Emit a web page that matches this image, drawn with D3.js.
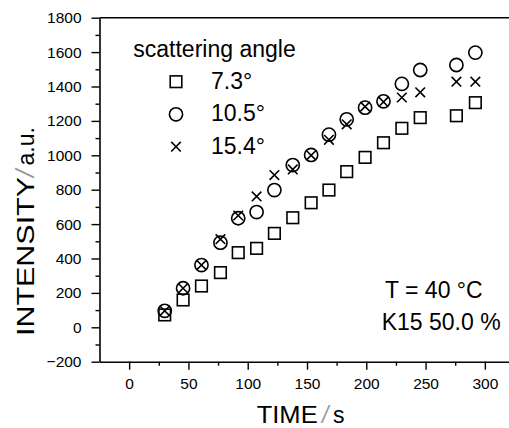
<!DOCTYPE html>
<html>
<head>
<meta charset="utf-8">
<script src="https://cdn.jsdelivr.net/npm/d3@7/dist/d3.min.js"></script>
<style>
  html, body { margin: 0; padding: 0; background: #fff; }
  svg { display: block; font-family: "Liberation Sans", Arial, Helvetica, sans-serif; }
</style>
</head>
<body>
<svg id="chart" width="509" height="428"></svg>
<script>
// ---- data ----
const time = [30, 45.5, 61, 77, 92, 107.5, 122.5, 138, 153.5, 168.5, 183.5, 199, 214.5, 230, 245.5, 276, 292];
const angle73 = [72, 159, 240, 318, 434, 459, 546, 637, 724, 798, 905, 988, 1073, 1157, 1219, 1230, 1306];
const angle105 = [96, 227, 362, 492, 634, 670, 798, 943, 1002, 1120, 1209, 1277, 1314, 1415, 1496, 1525, 1597];
const angle154 = [96, 227, 362, 512, 650, 761, 885, 918, 1000, 1090, 1180, 1283, 1310, 1336, 1366, 1428, 1428];
const seriesNames = ["7.3°", "10.5°", "15.4°"];
const seriesSymbols = ["square", "circle", "cross"];
const xTicks = [0, 50, 100, 150, 200, 250, 300];
const yTicks = [-200, 0, 200, 400, 600, 800, 1000, 1200, 1400, 1600, 1800];
const legendTitle = "scattering angle";
const notes = ["T = 40 °C", "K15 50.0 %"];

const svg = d3.select("#chart");
const L = 99.5, T = 17.7, B = 361.7;
const x = d3.scaleLinear().domain([-25, 325]).range([L, L + 350 * 1.1857]);
const y = d3.scaleLinear().domain([-200, 1800]).range([B, T]);

// frame: top line
svg.append("line").attr("x1", L).attr("x2", x(325)).attr("y1", T).attr("y2", T)
  .attr("stroke", "#000").attr("stroke-width", 1.5);

function styleAxis(g) {
  g.select(".domain").attr("stroke", "#000").attr("stroke-width", 1.6);
  g.selectAll(".tick line").attr("stroke", "#000").attr("stroke-width", 1.4);
  g.selectAll(".tick text").attr("fill", "#000").attr("font-size", 15.5)
    .attr("font-family", "'Liberation Sans', Arial, sans-serif");
}

// minor ticks
const yMinor = d3.range(-100, 1800, 200);
const xMinor = d3.range(-25, 326, 50).filter(v => v > -25);
svg.append("g").attr("transform", `translate(${L},0)`)
  .call(d3.axisLeft(y).tickValues(yMinor).tickSize(4).tickFormat(""))
  .call(g => { g.select(".domain").remove(); g.selectAll("line").attr("stroke", "#000").attr("stroke-width", 1.4); });
svg.append("g").attr("transform", `translate(0,${B})`)
  .call(d3.axisBottom(x).tickValues(xMinor).tickSize(4).tickFormat(""))
  .call(g => { g.select(".domain").remove(); g.selectAll("line").attr("stroke", "#000").attr("stroke-width", 1.4); });

// major axes
svg.append("g").attr("transform", `translate(${L},0)`)
  .call(d3.axisLeft(y).tickValues(yTicks).tickSize(8).tickSizeOuter(0).tickPadding(10).tickFormat(d3.format("d")))
  .call(styleAxis);
svg.append("g").attr("transform", `translate(0,${B})`)
  .call(d3.axisBottom(x).tickValues(xTicks).tickSize(8).tickSizeOuter(0).tickPadding(8).tickFormat(d3.format("d")))
  .call(styleAxis);

// markers
function drawSymbol(g, type, cx, cy) {
  if (type === "square") {
    g.append("rect").attr("x", cx - 5.8).attr("y", cy - 5.8).attr("width", 11.6).attr("height", 11.6)
      .attr("fill", "none").attr("stroke", "#000").attr("stroke-width", 1.6);
  } else if (type === "circle") {
    g.append("circle").attr("cx", cx).attr("cy", cy).attr("r", 6.6)
      .attr("fill", "none").attr("stroke", "#000").attr("stroke-width", 1.6);
  } else {
    const a = 4.8;
    g.append("path").attr("d", `M${cx - a},${cy - a}L${cx + a},${cy + a}M${cx - a},${cy + a}L${cx + a},${cy - a}`)
      .attr("fill", "none").attr("stroke", "#000").attr("stroke-width", 1.6);
  }
}
const allSeries = [angle73, angle105, angle154];
allSeries.forEach((vals, si) => {
  const g = svg.append("g");
  vals.forEach((v, i) => drawSymbol(g, seriesSymbols[si], x(time[i]), y(v)));
});

// legend
const fontBig = 23;
svg.append("text").attr("x", 133.3).attr("y", 57).attr("font-size", fontBig).text(legendTitle);
const legY = [81.7, 114.3, 146.7];
seriesNames.forEach((n, i) => {
  const g = svg.append("g");
  drawSymbol(g, seriesSymbols[i], 176, legY[i]);
  svg.append("text").attr("x", 211).attr("y", legY[i] + 6.8).attr("font-size", fontBig).text(n);
});

// notes
svg.append("text").attr("x", 385).attr("y", 298).attr("font-size", fontBig).text(notes[0]);
svg.append("text").attr("x", 381.7).attr("y", 330).attr("font-size", fontBig).text(notes[1]);

// axis titles
svg.append("text").attr("x", 256.7).attr("y", 423).attr("font-size", fontBig)
  .attr("textLength", 61).attr("lengthAdjust", "spacingAndGlyphs").text("TIME");
svg.append("text").attr("x", 322).attr("y", 423).attr("font-size", 23).attr("fill", "#999")
  .attr("font-style", "italic").text("/");
svg.append("text").attr("x", 333).attr("y", 423).attr("font-size", fontBig).text("s");

const yt = svg.append("g").attr("transform", "translate(33.5,0) rotate(-90)");
yt.append("text").attr("x", -336).attr("y", 0).attr("font-size", fontBig)
  .attr("textLength", 159).attr("lengthAdjust", "spacingAndGlyphs").text("INTENSITY");
yt.append("text").attr("x", -177).attr("y", 0).attr("font-size", 26).attr("fill", "#999")
  .attr("font-style", "italic").text("/");
yt.append("text").attr("x", -165.5).attr("y", 0).attr("font-size", fontBig).text("a.u.");
</script>
</body>
</html>
